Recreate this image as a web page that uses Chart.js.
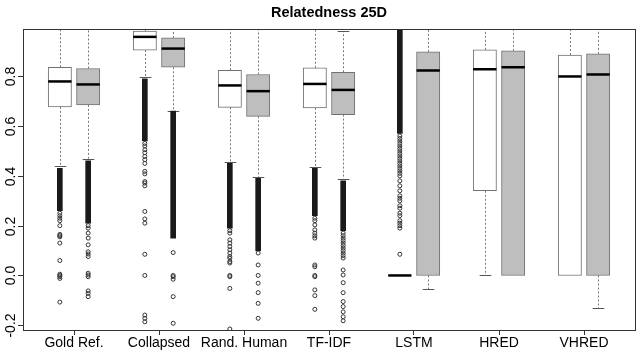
<!DOCTYPE html>
<html>
<head>
<meta charset="utf-8">
<script src="https://cdn.jsdelivr.net/npm/chart.js@4/dist/chart.umd.min.js"></script>
<style>
  body { margin: 0; background: #fff; }
  #wrap { width: 640px; height: 350px; }
</style>
</head>
<body>
<div id="wrap"><canvas id="myChart"></canvas></div>
<script>
// Datos
const categories = ["Gold Ref.", "Collapsed", "Rand. Human", "TF-IDF", "LSTM", "HRED", "VHRED"];
const groupTicks = [1.5, 4.5, 7.5, 10.5, 13.5, 16.5, 19.5];
const posA = [1, 4, 7, 10, 13, 16, 19];   // white boxes
const posB = [2, 5, 8, 11, 14, 17, 20];   // gray boxes
const yTicks = [-0.2, 0.0, 0.2, 0.4, 0.6, 0.8];

const lowA  = [0.438, 0.796, 0.454, 0.435, 0, 0, 0];
const q1A   = [0.677, 0.905, 0.675, 0.673, 0, 0.340, 0];
const medA  = [0.779, 0.958, 0.763, 0.769, 0, 0.828, 0.799];
const q3A   = [0.836, 0.981, 0.824, 0.834, 0, 0.906, 0.885];
const highA = [0.99, 0.99, 0.99, 0.99, 0, 0.99, 0.99];

const lowB  = [0.469, 0.662, 0.395, 0.388, -0.056, 0, -0.132];
const q1B   = [0.685, 0.836, 0.639, 0.646, 0, 0, 0];
const medB  = [0.767, 0.911, 0.740, 0.745, 0.823, 0.836, 0.807];
const q3B   = [0.831, 0.954, 0.807, 0.816, 0.898, 0.902, 0.890];
const highB = [0.99, 0.99, 0.99, 0.981, 0.99, 0.99, 0.99];

// stretches where outlier circles pile up into a solid column [top, bottom]
const denseA = [[0.43, 0.26], [0.79, 0.54], [0.45, 0.19], [0.43, 0.24], [0.985, 0.57], null, null];
const denseB = [[0.46, 0.21], [0.66, 0.15], [0.39, 0.10], [0.38, 0.18], null, null, null];

const outliersA = [
  [0.25, 0.24, 0.23, 0.22, 0.20, 0.165, 0.16, 0.155, 0.13, 0.06, 0.005, 0.0, -0.005, -0.012, -0.107],
  [0.53, 0.52, 0.505, 0.493, 0.478, 0.465, 0.45, 0.418, 0.408, 0.377, 0.371, 0.36, 0.257, 0.227, 0.21, 0.085, 0.0, -0.159, -0.172, -0.186],
  [0.18, 0.17, 0.143, 0.13, 0.116, 0.103, 0.09, 0.076, 0.069, 0.056, 0.05, 0.0, -0.005, -0.052, -0.215],
  [0.23, 0.22, 0.203, 0.183, 0.17, 0.159, 0.15, 0.042, 0.035, 0.0, -0.005, -0.058, -0.081, -0.136],
  [0.56, 0.55, 0.54, 0.53, 0.52, 0.51, 0.50, 0.49, 0.48, 0.47, 0.46, 0.45, 0.44, 0.43, 0.42, 0.41, 0.40,
   0.38, 0.36, 0.34, 0.32, 0.31, 0.30, 0.28, 0.27, 0.25, 0.24, 0.22, 0.21, 0.20, 0.19, 0.085],
  [],
  []
];
const outliersB = [
  [0.20, 0.19, 0.17, 0.15, 0.123, 0.095, 0.086, 0.076, 0.009, 0.002, -0.005, -0.062, -0.072, -0.085],
  [0.092, 0.0, -0.005, -0.015, -0.085, -0.192],
  [0.09, 0.042, 0.0, -0.031, -0.069, -0.112, -0.172],
  [0.17, 0.16, 0.15, 0.14, 0.13, 0.12, 0.11, 0.10, 0.09, 0.08, 0.07, 0.022, 0.002, -0.029, -0.069, -0.105, -0.125, -0.146, -0.166, -0.182],
  [],
  [],
  []
];

const BOX_W = 23.3;
const FONT = "'Liberation Sans', Arial, sans-serif";

function boxData(pos, q1, q3) {
  return pos.map((x, i) => ({ x: x, y: [q1[i], q3[i]] }));
}
function denseData(pos, runs) {
  const out = [];
  runs.forEach((r, i) => { if (r) out.push({ x: pos[i], y: [r[1], r[0]] }); });
  return out;
}
function pointData(pos, lists) {
  const out = [];
  lists.forEach((l, i) => l.forEach(v => out.push({ x: pos[i], y: v })));
  return out;
}

// Bigotes, medianas, marco y eje Y
const boxPlugin = {
  id: 'boxExtras',
  beforeDatasetsDraw(chart) {
    const { ctx, chartArea: a, scales: { x, y } } = chart;
    ctx.save();
    ctx.beginPath();
    ctx.rect(a.left, a.top, a.right - a.left, a.bottom - a.top);
    ctx.clip();
    const sets = [[posA, lowA, q1A, q3A, highA], [posB, lowB, q1B, q3B, highB]];
    sets.forEach(([pos, lo, q1, q3, hi]) => {
      pos.forEach((p, i) => {
        const px = Math.round(x.getPixelForValue(p)) + 0.5;
        ctx.strokeStyle = '#777';
        ctx.lineWidth = 1;
        ctx.setLineDash([2, 2]);
        ctx.beginPath();
        if (lo[i] < q1[i]) {
          ctx.moveTo(px, y.getPixelForValue(q1[i]));
          ctx.lineTo(px, y.getPixelForValue(lo[i]));
        }
        if (hi[i] > q3[i]) {
          ctx.moveTo(px, y.getPixelForValue(q3[i]));
          ctx.lineTo(px, y.getPixelForValue(hi[i]));
        }
        ctx.stroke();
        ctx.setLineDash([]);
        ctx.strokeStyle = '#555';
        ctx.beginPath();
        [lo[i], hi[i]].forEach((v, k) => {
          if ((k === 0 && v < q1[i]) || (k === 1 && v > q3[i])) {
            const py = Math.round(y.getPixelForValue(v)) + 0.5;
            ctx.moveTo(px - BOX_W / 4, py);
            ctx.lineTo(px + BOX_W / 4, py);
          }
        });
        ctx.stroke();
      });
    });
    ctx.restore();
  },
  afterDatasetsDraw(chart) {
    const { ctx, chartArea: a, scales: { x, y } } = chart;
    ctx.save();
    // medianas
    ctx.strokeStyle = '#000';
    ctx.lineWidth = 2.5;
    [[posA, medA], [posB, medB]].forEach(([pos, med]) => {
      pos.forEach((p, i) => {
        const px = x.getPixelForValue(p);
        const py = y.getPixelForValue(med[i]);
        ctx.beginPath();
        ctx.moveTo(px - BOX_W / 2, py);
        ctx.lineTo(px + BOX_W / 2, py);
        ctx.stroke();
      });
    });
    // marco
    ctx.strokeStyle = '#333';
    ctx.lineWidth = 1;
    ctx.strokeRect(Math.round(a.left) + 0.5, Math.round(a.top) + 0.5,
      Math.round(a.right - a.left), Math.round(a.bottom - a.top));
    // eje Y con etiquetas giradas
    ctx.fillStyle = '#000';
    ctx.font = '14px ' + FONT;
    ctx.textAlign = 'center';
    ctx.textBaseline = 'middle';
    yTicks.forEach(v => {
      const py = Math.round(y.getPixelForValue(v)) + 0.5;
      ctx.beginPath();
      ctx.moveTo(a.left - 5, py);
      ctx.lineTo(a.left, py);
      ctx.stroke();
      ctx.save();
      ctx.translate(11, py);
      ctx.rotate(-Math.PI / 2);
      ctx.fillText(v.toFixed(1), 0, 0);
      ctx.restore();
    });
    ctx.restore();
  }
};

let ctx = document.getElementById('myChart');
let chart = new Chart(ctx, {
  type: 'bar',
  data: {
    datasets: [
      {
        data: boxData(posA, q1A, q3A),
        backgroundColor: '#ffffff',
        borderColor: '#707070',
        borderWidth: 1,
        borderSkipped: false,
        grouped: false,
        barThickness: BOX_W
      },
      {
        data: boxData(posB, q1B, q3B),
        backgroundColor: '#bebebe',
        borderColor: '#707070',
        borderWidth: 1,
        borderSkipped: false,
        grouped: false,
        barThickness: BOX_W
      },
      {
        data: denseData(posA, denseA).concat(denseData(posB, denseB)),
        backgroundColor: '#1a1a1a',
        borderWidth: 0,
        grouped: false,
        barThickness: 5
      },
      {
        type: 'scatter',
        data: pointData(posA, outliersA).concat(pointData(posB, outliersB)),
        pointRadius: 2,
        pointBorderWidth: 1,
        pointBorderColor: '#333',
        pointBackgroundColor: 'rgba(0,0,0,0)',
        showLine: false
      }
    ]
  },
  options: {
    responsive: true,
    maintainAspectRatio: false,
    animation: false,
    layout: { padding: { left: 23, right: 5, top: 0, bottom: 0 } },
    plugins: {
      legend: { display: false },
      tooltip: { enabled: false },
      title: {
        display: true,
        text: 'Relatedness 25D',
        color: '#000',
        font: { family: FONT, size: 14.5, weight: 'bold' },
        padding: { top: 4, bottom: 8 }
      }
    },
    scales: {
      x: {
        type: 'linear',
        offset: false,
        min: -0.3,
        max: 21.3,
        afterBuildTicks: s => { s.ticks = groupTicks.map(v => ({ value: v })); },
        afterFit: s => { s.height = 20; },
        ticks: {
          autoSkip: false,
          maxRotation: 0,
          padding: 0,
          color: '#000',
          font: { family: FONT, size: 14 },
          callback: (v, i) => categories[i]
        },
        grid: { offset: false, drawOnChartArea: false, drawTicks: true, tickLength: 5, color: '#333' },
        border: { display: false }
      },
      y: {
        display: false,
        min: -0.219,
        max: 0.988
      }
    }
  },
  plugins: [boxPlugin]
});
</script>
</body>
</html>
